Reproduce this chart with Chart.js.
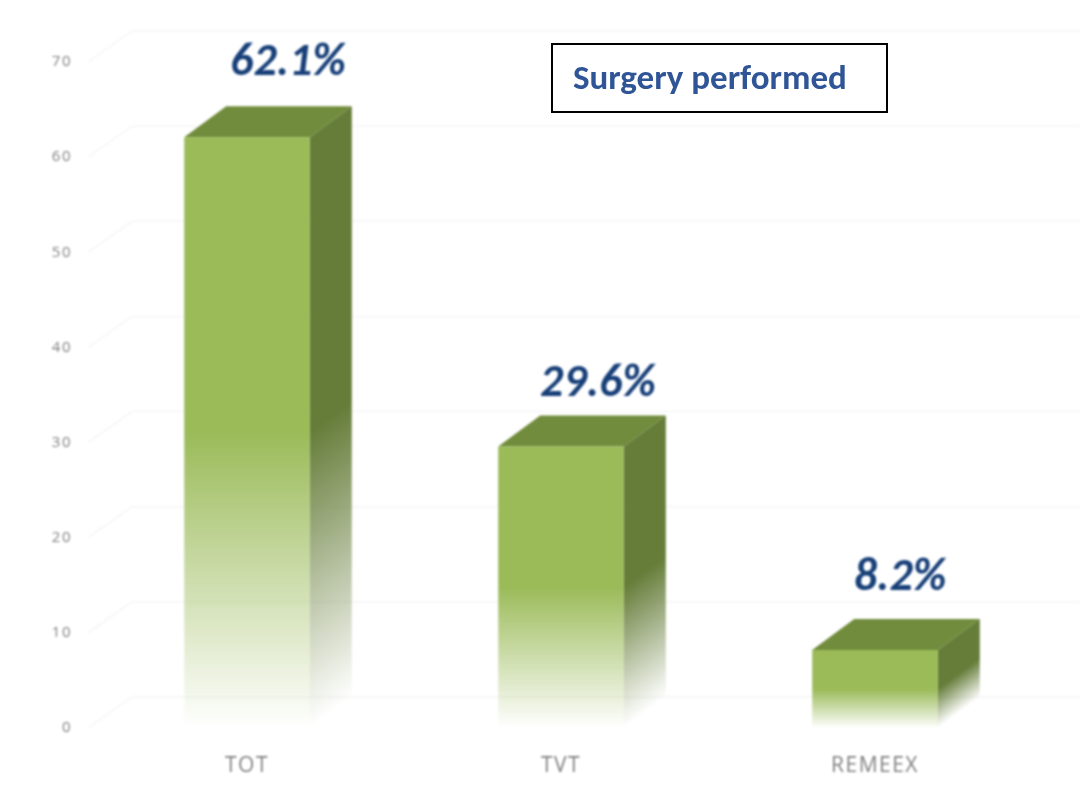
<!DOCTYPE html>
<html>
<head>
<meta charset="utf-8">
<script src="https://cdn.jsdelivr.net/npm/chart.js@4"></script>
<style>
html, body { margin: 0; padding: 0; background: #fff; }
#wrap { position: relative; width: 1080px; height: 787px; overflow: hidden; }
#c { display: block; filter: blur(0.8px); }
#box { position: absolute; left: 551px; top: 43px; width: 333px; height: 66px; border: 2px solid #000; background: #fff;
  font: bold 35px Carlito, "Open Sans", sans-serif; color: #2f5597; line-height: 64px; padding: 0; box-sizing: content-box; }
#box span { position: absolute; left: 20px; top: 0; white-space: nowrap; filter: blur(0.6px); }
</style>
</head>
<body>
<div id="wrap">
  <canvas id="c" width="1080" height="787"></canvas>
  <div id="box"><span>Surgery performed</span></div>
</div>
<script>
const categories = ["TOT", "TVT", "REMEEX"];
const surgeryPct = [62.1, 29.6, 8.2];
const yTicks = [0, 10, 20, 30, 40, 50, 60, 70];

// 3d look
const depthX = 42;
const depthY = 31;
const frontColor = [155, 187, 89];
const sideColor = [102, 125, 58];
const topColor = "#718c3c";
// label nudges from the bar's top centre
const labelShift = [[41, -62], [37, -50], [25, -60]];

function fade(ctx, top, bottom, rgb) {
	let g = ctx.createLinearGradient(0, top, 0, bottom);
	let c = rgb.join(",");
	g.addColorStop(0, "rgba(" + c + ",1)");
	g.addColorStop(0.5, "rgba(" + c + ",1)");
	g.addColorStop(1, "rgba(" + c + ",0)");
	return g;
}

const box3d = {
	id: "box3d",
	beforeDraw(chart) {
		// axis labels are spaced out a bit in the original
		chart.ctx.letterSpacing = "1.5px";
	},
	beforeDatasetsDraw(chart) {
		const ctx = chart.ctx;
		const y = chart.scales.y;
		const left = chart.chartArea.left;
		// back wall grid and the little diagonals
		ctx.save();
		ctx.strokeStyle = "#f5f5f5";
		ctx.lineWidth = 1.5;
		yTicks.forEach(function(t) {
			let py = y.getPixelForValue(t);
			ctx.beginPath();
			ctx.moveTo(left - 2, py);
			ctx.lineTo(left + depthX, py - depthY);
			ctx.lineTo(1080, py - depthY);
			ctx.stroke();
		});
		ctx.restore();
		// side and top faces
		chart.getDatasetMeta(0).data.forEach(function(bar) {
			let x0 = bar.x - bar.width / 2;
			let x1 = bar.x + bar.width / 2;
			ctx.save();
			ctx.fillStyle = topColor;
			ctx.beginPath();
			ctx.moveTo(x0, bar.y);
			ctx.lineTo(x0 + depthX, bar.y - depthY);
			ctx.lineTo(x1 + depthX, bar.y - depthY);
			ctx.lineTo(x1, bar.y);
			ctx.closePath();
			ctx.fill();
			ctx.restore();

			ctx.save();
			// skew so the fade runs along the slanted bottom
			ctx.transform(1, -depthY / depthX, 0, 1, x1, 0);
			ctx.fillStyle = fade(ctx, bar.y, bar.base, sideColor);
			ctx.fillRect(0, bar.y, depthX, bar.base - bar.y);
			ctx.restore();
		});
	},
	afterDatasetsDraw(chart) {
		const ctx = chart.ctx;
		ctx.save();
		ctx.letterSpacing = "0px";
		ctx.font = "italic bold 46px Carlito, 'Open Sans', sans-serif";
		ctx.fillStyle = "#173f78";
		ctx.textAlign = "center";
		ctx.textBaseline = "alphabetic";
		chart.getDatasetMeta(0).data.forEach(function(bar, i) {
			ctx.fillText(surgeryPct[i].toFixed(1) + "%", bar.x + labelShift[i][0], bar.y + labelShift[i][1]);
		});
		ctx.restore();
	}
};

new Chart(document.getElementById("c"), {
	type: "bar",
	data: {
		labels: categories,
		datasets: [{
			data: surgeryPct,
			backgroundColor: function(context) {
				const chart = context.chart;
				if (!chart.chartArea) return "rgb(155,187,89)";
				const y = chart.scales.y;
				return fade(chart.ctx, y.getPixelForValue(surgeryPct[context.dataIndex]), y.getPixelForValue(0), frontColor);
			},
			borderWidth: 0,
			barPercentage: 0.4,
			categoryPercentage: 1
		}]
	},
	options: {
		responsive: false,
		devicePixelRatio: 1,
		animation: false,
		layout: { padding: { top: 62, right: 48, left: 0, bottom: 0 } },
		plugins: { legend: { display: false }, tooltip: { enabled: false } },
		scales: {
			x: {
				grid: { display: false },
				border: { display: false },
				afterFit: function(s) { s.height = 59; },
				ticks: { color: "#7f7f7f", padding: 17, font: { family: "'Open Sans'", size: 21 } }
			},
			y: {
				min: 0,
				max: 70,
				grid: { display: false },
				border: { display: false },
				afterFit: function(s) { s.width = 90; },
				ticks: { stepSize: 10, color: "#7f7f7f", padding: 10, font: { family: "'Open Sans'", size: 15 } }
			}
		}
	},
	plugins: [box3d]
});
</script>
</body>
</html>
